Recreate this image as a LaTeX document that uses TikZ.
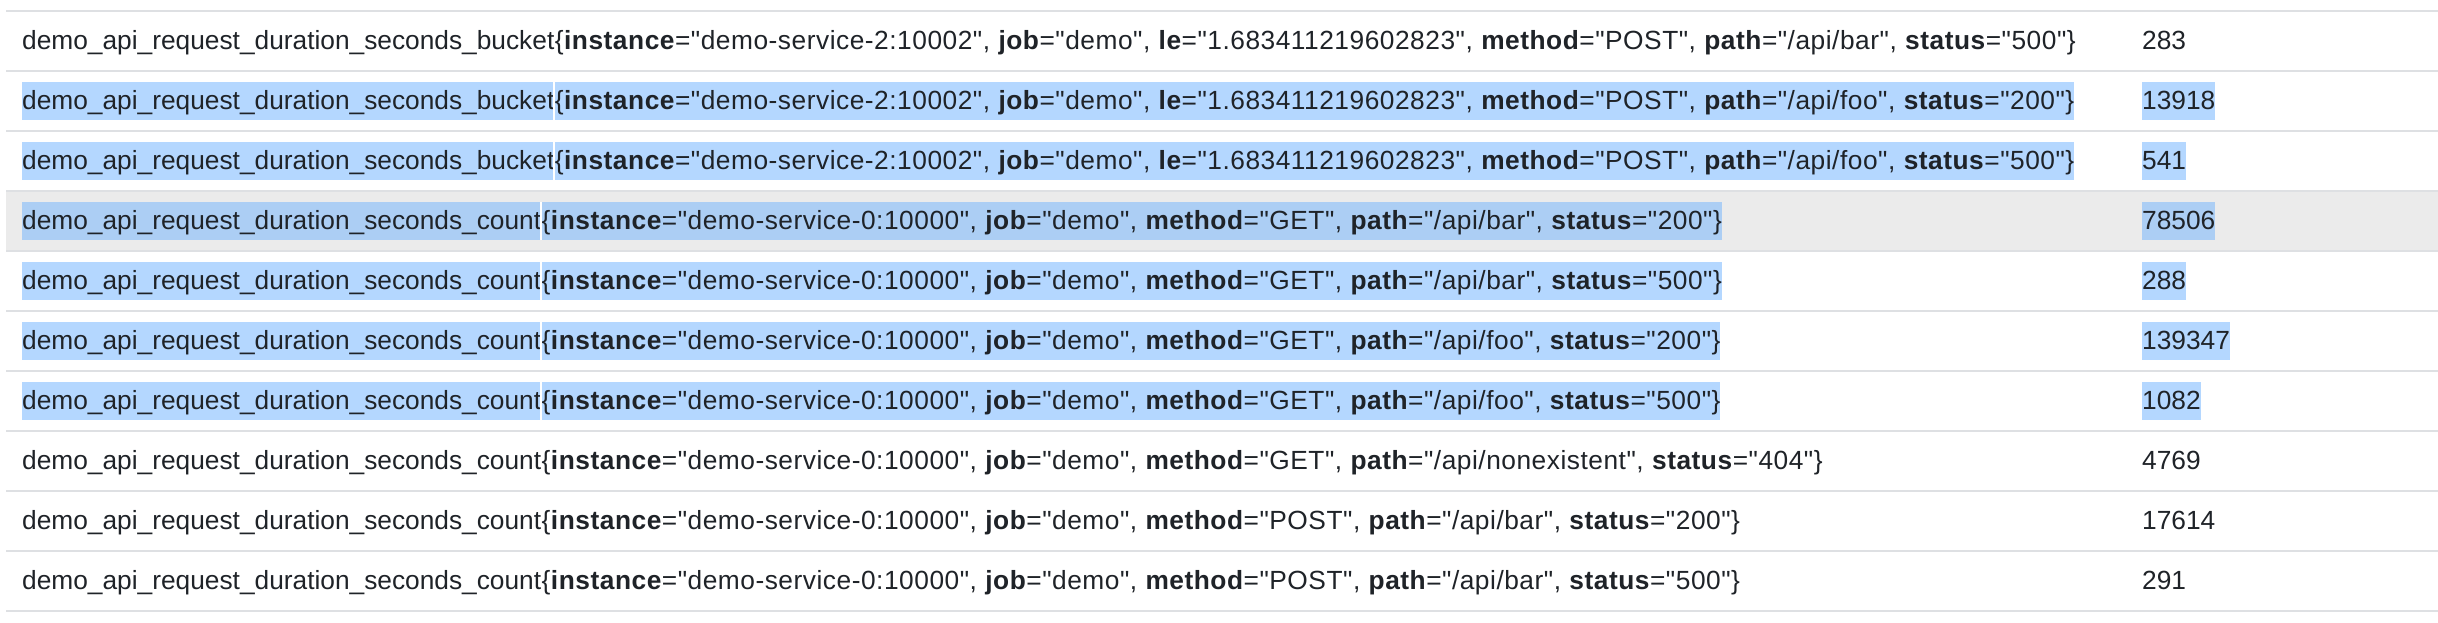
\documentclass[tikz,border=0pt]{standalone}
\usepackage{fontspec}
\setmainfont{Liberation Sans}[Ligatures=TeXOff]
\newfontfamily\labelfont{Liberation Sans}[Ligatures=TeXOff, LetterSpace=2]
\definecolor{txt}{HTML}{1F2328}
\definecolor{rule}{HTML}{DEE0E3}
\definecolor{hover}{HTML}{EBEBEB}
\definecolor{hlblue}{HTML}{B4D7FF}
\definecolor{hldark}{HTML}{ACCEF4}
\tikzset{
  cell/.style={inner sep=0pt, text height=27.3pt, text depth=10.7pt, text=txt,
    font=\fontsize{26.3}{30}\selectfont, anchor=base west},
  labcell/.style={cell, font=\fontsize{26.3}{30}\labelfont},
  hl/.style={fill=hlblue},
  hlg/.style={fill=hldark},
  plain/.style={},
  sep/.style={draw=rule, line width=2pt},
}
\newcommand\trow[5]{%
  \pgfmathsetmacro\rowbase{-(49.3+60*(#1-1))}
  \node[cell,#5] (n#1) at (22,\rowbase) {#2};
  \node[labcell,#5] (l#1) at (n#1.base east) {#3};
  \node[cell,#5] (v#1) at (2142,\rowbase) {#4};
}
\newcommand\gapline[1]{%
  \fill[white] ([xshift=-1.2pt]n#1.south east) rectangle ([xshift=0.8pt]n#1.north east);}
\newcommand\bk[1]{\textbf{#1}}
\begin{document}
\begin{tikzpicture}[x=1pt,y=1pt]
\useasboundingbox (0,0) rectangle (2438,-622);
\fill[white] (0,0) rectangle (2438,-622);
% hovered row
\fill[hover] (6,-192) rectangle (2438,-250);
% rules
\foreach \k in {0,...,10} {
  \draw[sep] (6,{-(11+60*\k)}) -- (2438,{-(11+60*\k)});
}
\trow{1}{demo\_api\_request\_duration\_seconds\_bucket}{\{\bk{instance}="demo-service-2:10002", \bk{job}="demo", \bk{le}="1.683411219602823", \bk{method}="POST", \bk{path}="/api/bar", \bk{status}="500"\}}{283}{plain}
\trow{2}{demo\_api\_request\_duration\_seconds\_bucket}{\{\bk{instance}="demo-service-2:10002", \bk{job}="demo", \bk{le}="1.683411219602823", \bk{method}="POST", \bk{path}="/api/foo", \bk{status}="200"\}\hspace{8pt}}{13918\hspace{8pt}}{hl}
\trow{3}{demo\_api\_request\_duration\_seconds\_bucket}{\{\bk{instance}="demo-service-2:10002", \bk{job}="demo", \bk{le}="1.683411219602823", \bk{method}="POST", \bk{path}="/api/foo", \bk{status}="500"\}\hspace{8pt}}{541\hspace{8pt}}{hl}
\trow{4}{demo\_api\_request\_duration\_seconds\_count}{\{\bk{instance}="demo-service-0:10000", \bk{job}="demo", \bk{method}="GET", \bk{path}="/api/bar", \bk{status}="200"\}\hspace{8pt}}{78506\hspace{8pt}}{hlg}
\trow{5}{demo\_api\_request\_duration\_seconds\_count}{\{\bk{instance}="demo-service-0:10000", \bk{job}="demo", \bk{method}="GET", \bk{path}="/api/bar", \bk{status}="500"\}\hspace{8pt}}{288\hspace{8pt}}{hl}
\trow{6}{demo\_api\_request\_duration\_seconds\_count}{\{\bk{instance}="demo-service-0:10000", \bk{job}="demo", \bk{method}="GET", \bk{path}="/api/foo", \bk{status}="200"\}\hspace{8pt}}{139347\hspace{8pt}}{hl}
\trow{7}{demo\_api\_request\_duration\_seconds\_count}{\{\bk{instance}="demo-service-0:10000", \bk{job}="demo", \bk{method}="GET", \bk{path}="/api/foo", \bk{status}="500"\}\hspace{8pt}}{1082\hspace{8pt}}{hl}
\trow{8}{demo\_api\_request\_duration\_seconds\_count}{\{\bk{instance}="demo-service-0:10000", \bk{job}="demo", \bk{method}="GET", \bk{path}="/api/nonexistent", \bk{status}="404"\}}{4769}{plain}
\trow{9}{demo\_api\_request\_duration\_seconds\_count}{\{\bk{instance}="demo-service-0:10000", \bk{job}="demo", \bk{method}="POST", \bk{path}="/api/bar", \bk{status}="200"\}}{17614}{plain}
\trow{10}{demo\_api\_request\_duration\_seconds\_count}{\{\bk{instance}="demo-service-0:10000", \bk{job}="demo", \bk{method}="POST", \bk{path}="/api/bar", \bk{status}="500"\}}{291}{plain}
\foreach \r in {2,...,7} {\gapline{\r}}
\end{tikzpicture}
\end{document}
